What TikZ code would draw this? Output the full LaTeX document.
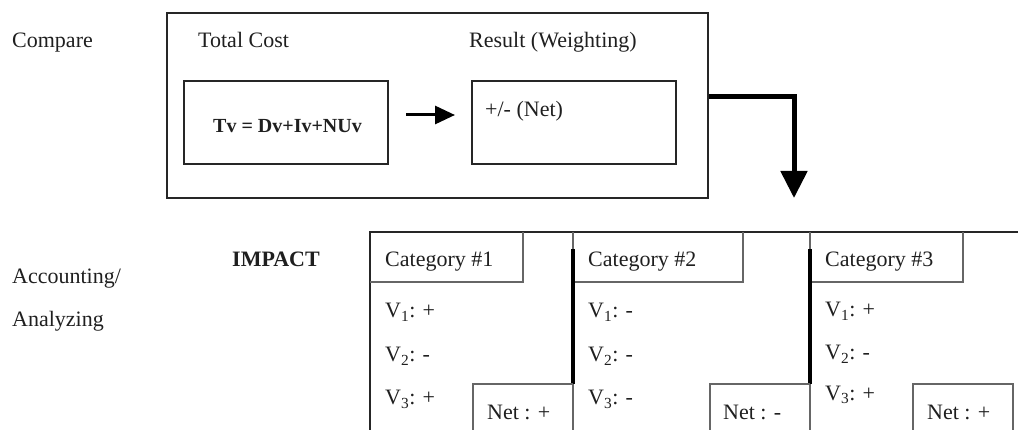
\documentclass[tikz,border=0pt]{standalone}
\usepackage{fontspec}
\setmainfont{Liberation Serif}
\usetikzlibrary{arrows.meta}
\begin{document}
\begin{tikzpicture}[x=1pt,y=-1pt,
  frame/.style={draw=black!85, line width=2pt, inner sep=0pt, anchor=north west},
  rule/.style={draw=black!85, line width=2pt},
  thin/.style={draw=black!60, line width=1.3pt},
  sep/.style={draw=black, line width=3.2pt},
  txt/.style={anchor=base west, inner sep=0pt, text=black!88, font=\fontsize{22}{26}\selectfont},
  btxt/.style={txt, font=\fontsize{22}{26}\selectfont\bfseries},
  eqtxt/.style={txt, font=\fontsize{20}{24}\selectfont\bfseries},
  flow/.style={draw=black, line width=3pt, -{Triangle[length=20pt,width=18pt]}},
  bigflow/.style={draw=black, line width=5pt, -{Triangle[length=27pt,width=26pt]}}]
\useasboundingbox (0,0) rectangle (1018,430);

% ---- comparison stage ----
\node[frame, minimum width=541pt, minimum height=185pt] (cmp) at (166,12) {};
\node[frame, minimum width=204pt, minimum height=83pt] (tv) at (183,80) {};
\node[frame, minimum width=204pt, minimum height=83pt] (res) at (471,80) {};

\node[txt] (lcmp) at (12,48) {Compare};
\node[txt] (ltot) at (198,48) {Total Cost};
\node[txt] (lres) at (469,48) {Result (Weighting)};
\node[eqtxt] (leq) at (213,133) {Tv = Dv+Iv+NUv};
\node[txt] (lnet) at (485,117) {+/- (Net)};

\coordinate (a1) at ([xshift=17pt,yshift=7.5pt]tv.east);
\coordinate (a2) at ([xshift=-16pt,yshift=7.5pt]res.west);
\draw[flow] (a1) -- (a2);

\coordinate (b1) at (cmp.north east |- 0,97);
\coordinate (b2) at (794,97);
\coordinate (b3) at (794,198);
\draw[bigflow] (b1) -- (b2) -- (b3);

% ---- accounting / analyzing stage ----
\node[txt] (lacc) at (12,284) {Accounting/};
\node[txt] (lana) at (12,327) {Analyzing};
\node[btxt] (limp) at (232,267) {IMPACT};

% table frame
\draw[rule] (370,430) -- (370,232) -- (1018,232);

% category headers
\draw[thin] (370,282) -- (523,282) -- (523,232);
\draw[thin] (573,282) -- (743,282) -- (743,232);
\draw[thin] (810,282) -- (963,282) -- (963,232);

% column separators
\draw[thin] (573,232) -- (573,430);
\draw[thin] (810,232) -- (810,430);
\draw[sep] (573,249) -- (573,384);
\draw[sep] (810,249) -- (810,384);

% net boxes
\draw[thin] (473,430) -- (473,384) -- (573,384);
\draw[thin] (710,430) -- (710,384) -- (810,384);
\draw[thin] (913,430) -- (913,384) -- (1013,384) -- (1013,430);

\node[txt] (c1) at (385,267) {Category \#1};
\node[txt] (c2) at (588,267) {Category \#2};
\node[txt] (c3) at (825,267) {Category \#3};

\node[txt] (v11) at (385,318) {V\textsubscript{1}: +};
\node[txt] (v12) at (385,362) {V\textsubscript{2}: -};
\node[txt] (v13) at (385,405) {V\textsubscript{3}: +};
\node[txt] (v21) at (588,318) {V\textsubscript{1}: -};
\node[txt] (v22) at (588,362) {V\textsubscript{2}: -};
\node[txt] (v23) at (588,405) {V\textsubscript{3}: -};
\node[txt] (v31) at (825,317) {V\textsubscript{1}: +};
\node[txt] (v32) at (825,360) {V\textsubscript{2}: -};
\node[txt] (v33) at (825,400) {V\textsubscript{3}: +};

\node[txt] (n1) at (487,420) {Net : +};
\node[txt] (n2) at (723,420) {Net : -};
\node[txt] (n3) at (927,420) {Net : +};
\end{tikzpicture}
\end{document}
